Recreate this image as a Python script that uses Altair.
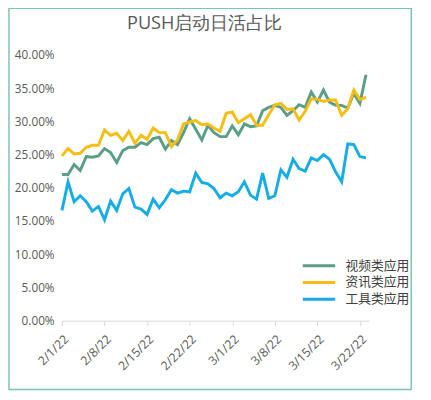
import altair as alt
import pandas as pd

start_date = "2022-02-01"
n_days = 51
dates = pd.date_range(start_date, periods=n_days, freq="D").strftime("%Y-%m-%d").tolist()

series_names = ["视频类应用", "资讯类应用", "工具类应用"]

video = [22.0, 22.0, 23.5, 22.6, 24.7, 24.6, 24.8, 25.9, 25.3, 23.8,
         25.6, 26.1, 26.1, 26.8, 26.5, 27.4, 27.6, 25.8, 27.1, 26.5,
         28.3, 30.4, 28.8, 27.2, 29.4, 28.3, 27.7, 27.7, 29.3, 28.0,
         29.6, 29.2, 29.3, 31.6, 32.1, 32.4, 32.1, 30.9, 31.6, 32.5,
         32.1, 34.4, 32.9, 34.7, 32.9, 32.4, 32.4, 32.0, 34.2, 32.7,
         37.0]
news = [24.8, 25.9, 25.1, 25.2, 26.1, 26.4, 26.4, 28.7, 27.9, 28.2,
        27.1, 28.5, 26.7, 27.9, 27.3, 29.0, 28.3, 28.3, 26.2, 27.2,
        29.6, 29.9, 30.1, 29.5, 29.6, 29.0, 28.5, 31.2, 31.4, 29.8,
        30.4, 31.0, 29.4, 29.4, 31.0, 32.5, 32.7, 31.8, 31.9, 30.2,
        31.5, 33.4, 33.3, 33.0, 33.2, 33.2, 30.9, 31.9, 34.7, 33.3,
        33.6]
tool = [16.6, 20.9, 17.9, 18.8, 17.9, 16.5, 17.2, 15.2, 18.0, 16.6,
        19.1, 19.9, 17.1, 16.8, 16.0, 18.3, 17.0, 18.2, 19.7, 19.2,
        19.5, 19.4, 22.2, 20.8, 20.6, 19.9, 18.5, 19.2, 18.8, 19.4,
        20.9, 18.9, 18.3, 22.2, 18.4, 18.8, 22.7, 21.6, 24.3, 22.9,
        22.5, 24.5, 24.1, 25.0, 24.3, 22.4, 20.9, 26.6, 26.5, 24.7,
        24.5]

y_ticks = [0, 5, 10, 15, 20, 25, 30, 35, 40]
x_tick_dates = [(2, 1), (2, 8), (2, 15), (2, 22), (3, 1), (3, 8), (3, 15), (3, 22)]

line_colors = ["#5a9f85", "#f5be14", "#16ade6"]

rows = []
for name, vals in zip(series_names, [video, news, tool]):
    for d, v in zip(dates, vals):
        rows.append({"date": d, "pct": v, "series": name})
df = pd.DataFrame(rows)

x_enc = alt.X(
    "date:T",
    title=None,
    scale=alt.Scale(
        type="utc",
        domain=[alt.DateTime(year=2022, month=2, date=1, utc=True),
                alt.DateTime(year=2022, month=3, date=23, hours=12, utc=True)],
    ),
    axis=alt.Axis(
        values=[alt.DateTime(year=2022, month=m, date=d, utc=True) for m, d in x_tick_dates],
        labelExpr="utcFormat(datum.value, '%-m/%-d/%y')",
        labelAngle=-45,
        labelAlign="right",
        labelBaseline="top",
        labelPadding=7,
        grid=False,
        domainColor="#d9d9d9",
        tickColor="#d9d9d9",
        tickSize=5,
        labelFontSize=12.5,
        labelColor="#595959",
        labelFont="Open Sans",
    ),
)
y_enc = alt.Y(
    "v:Q",
    title=None,
    scale=alt.Scale(domain=[0, 0.4]),
    axis=alt.Axis(
        values=[t / 100 for t in y_ticks],
        format=".2%",
        domain=False,
        ticks=False,
        grid=False,
        labelPadding=8,
        labelFontSize=12,
        labelColor="#595959",
        labelFont="Open Sans",
    ),
)

base = alt.Chart(df).transform_calculate(v="datum.pct / 100")

lines = base.mark_line(strokeWidth=3).encode(
    x=x_enc,
    y=y_enc,
    color=alt.Color(
        "series:N",
        scale=alt.Scale(domain=series_names, range=line_colors),
        legend=alt.Legend(
            title=None,
            orient="none",
            legendX=255,
            legendY=208,
            symbolType="M-3,0H3",
            symbolSize=121,
            symbolStrokeWidth=3,
            labelFontSize=13,
            labelFont="Noto Sans CJK SC",
            labelColor="#404040",
            labelOffset=20,
            rowPadding=3,
            padding=0,
        ),
    ),
)

border = alt.Chart(pd.DataFrame({"k": [0]})).mark_rect(
    fillOpacity=0, stroke="#7cc4b4", strokeWidth=1.5
).encode(
    x=alt.value(-54), x2=alt.value(356), y=alt.value(-47.5), y2=alt.value(341)
)

chart = alt.layer(border, lines).properties(
    width=313,
    height=271,
    title=alt.TitleParams(
        "PUSH启动日活占比",
        fontSize=18.5,
        font="Open Sans",
        color="#595959",
        fontWeight="normal",
        anchor="middle",
        dx=-11,
        offset=-40,
        baseline="alphabetic",
    ),
    autosize=alt.AutoSizeParams(type="none"),
    padding={"left": 55, "top": 44, "right": 55, "bottom": 77},
).configure_view(stroke=None)

chart.save("out.html", embed_options={"renderer": "svg", "actions": False})
